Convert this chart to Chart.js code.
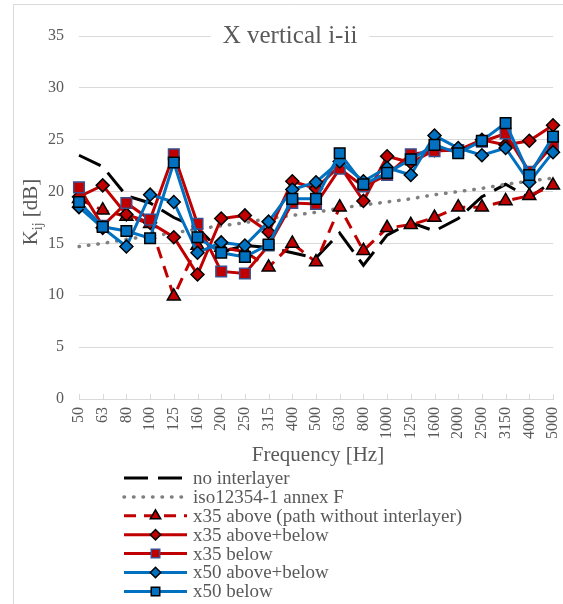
<!DOCTYPE html>
<html>
<head>
<meta charset="utf-8">
<script src="https://cdn.jsdelivr.net/npm/chart.js@4/dist/chart.umd.min.js"></script>
<style>
  html, body { margin: 0; padding: 0; background: #fff; }
  canvas { display: block; }
</style>
</head>
<body>
<canvas id="chart" width="563" height="604"></canvas>
<script>
var freqs = ["50", "63", "80", "100", "125", "160", "200", "250", "315", "400", "500",
  "630", "800", "1000", "1250", "1600", "2000", "2500", "3150", "4000", "5000"];
var yTicks = [0, 5, 10, 15, 20, 25, 30, 35];

var noInterlayer   = [23.5, 22.4, 19.6, 18.9, 17.5, 16.5, 14.2, 14.8, 14.6, 14.1, 13.6, 16.0, 12.9, 15.8, 17.0, 16.2, 17.4, 19.5, 20.7, 19.4, 21.0];
var iso12354       = [14.7, 15.0, 15.4, 15.7, 16.0, 16.4, 16.7, 17.0, 17.4, 17.7, 18.0, 18.4, 18.7, 19.0, 19.3, 19.7, 20.0, 20.3, 20.7, 21.0, 21.3];
var x35Above       = [19.3, 18.2, 17.6, 16.9, 9.9, 14.8, 14.6, 14.2, 12.7, 15.0, 13.2, 18.5, 14.3, 16.5, 16.8, 17.5, 18.5, 18.5, 19.1, 19.6, 20.6];
var x35AboveBelow  = [19.5, 20.6, 17.8, 17.0, 15.6, 12.0, 17.4, 17.7, 16.1, 21.0, 20.3, 22.5, 19.1, 23.4, 22.8, 24.0, 24.0, 25.0, 24.5, 24.9, 26.4];
var x35Below       = [20.4, 16.7, 18.9, 17.3, 23.6, 16.9, 12.3, 12.1, 14.8, 18.9, 18.8, 22.2, 20.5, 21.6, 23.6, 23.9, 24.0, 24.8, 25.6, 21.9, 24.5];
var x50AboveBelow  = [18.5, 16.5, 14.7, 19.7, 19.0, 14.1, 15.1, 14.8, 17.1, 20.2, 20.9, 22.9, 21.0, 22.3, 21.6, 25.4, 24.2, 23.5, 24.2, 20.9, 23.8];
var x50Below       = [19.0, 16.6, 16.2, 15.5, 22.8, 15.6, 14.1, 13.7, 14.9, 19.3, 19.3, 23.7, 20.7, 21.8, 23.1, 24.5, 23.7, 24.9, 26.6, 21.6, 25.3];

var FONT = "'Liberation Serif', 'Times New Roman', serif";
var TEXT = "#595959";
var GRID = "#D9D9D9";
var RED = "#C00000";
var BLUE = "#0070C0";

function series(label, data, color, dash, style, radius, fill, edge, order) {
  return {
    label: label,
    data: data,
    borderColor: color,
    borderWidth: 3,
    borderDash: dash,
    borderCapStyle: dash.length && dash[0] < 2 ? "round" : "butt",
    pointStyle: style,
    pointRadius: style ? radius : 0,
    pointHoverRadius: style ? radius : 0,
    pointBackgroundColor: fill,
    pointBorderColor: edge,
    pointBorderWidth: 1.5,
    tension: 0,
    fill: false,
    order: order
  };
}

var datasets = [
  series("no interlayer", noInterlayer, "#000000", [24, 10], false, 0, null, null, 6),
  series("iso12354-1 annex F", iso12354, "#7F7F7F", [0.5, 9], false, 0, null, null, 5),
  series("x35 above (path without interlayer)", x35Above, RED, [12, 8], "triangle", 7.5, RED, "#000000", 4),
  series("x35 above+below", x35AboveBelow, RED, [], "rectRot", 6.5, RED, "#000000", 3),
  series("x35 below", x35Below, RED, [], "rect", 7.5, RED, "#3A4F8C", 2),
  series("x50 above+below", x50AboveBelow, BLUE, [], "rectRot", 6.5, BLUE, "#000000", 1),
  series("x50 below", x50Below, BLUE, [], "rect", 7.5, BLUE, "#000000", 0)
];
// the dotted iso line has bigger round dots
datasets[1].borderWidth = 3.5;

var decor = {
  id: "decor",
  beforeDraw: function(chart) {
    var ctx = chart.ctx;
    ctx.save();
    ctx.fillStyle = "#fff";
    ctx.fillRect(0, 0, chart.width, chart.height);
    ctx.strokeStyle = GRID;
    ctx.lineWidth = 1;
    ctx.beginPath();
    ctx.moveTo(13.5, chart.height + 2);
    ctx.lineTo(13.5, 4.5);
    ctx.lineTo(chart.width + 2, 4.5);
    ctx.stroke();
    ctx.restore();
  },
  beforeDatasetsDraw: function(chart) {
    var ctx = chart.ctx;
    var xs = chart.scales.x;
    var bottom = chart.chartArea.bottom;
    ctx.save();
    ctx.strokeStyle = GRID;
    ctx.lineWidth = 1;
    ctx.beginPath();
    for (var i = 0; i < freqs.length; i++) {
      var px = Math.round(xs.getPixelForTick(i)) + 0.5;
      ctx.moveTo(px, bottom);
      ctx.lineTo(px, bottom - 5);
    }
    ctx.stroke();
    ctx.restore();
  },
  afterDraw: function(chart) {
    var ctx = chart.ctx;
    var area = chart.chartArea;
    ctx.save();

    // title sitting on the top gridline
    var title = "X vertical i-ii";
    ctx.font = "25px " + FONT;
    var tw = ctx.measureText(title).width;
    var cx = 290;
    ctx.fillStyle = "#fff";
    ctx.fillRect(cx - tw / 2 - 12, area.top - 14, tw + 24, 26);
    ctx.fillStyle = TEXT;
    ctx.textAlign = "center";
    ctx.textBaseline = "alphabetic";
    ctx.fillText(title, cx, area.top + 7);

    // y axis title with subscript
    ctx.translate(37, 212);
    ctx.rotate(-Math.PI / 2);
    ctx.textAlign = "left";
    ctx.font = "21px " + FONT;
    var w1 = ctx.measureText("K").width;
    ctx.font = "14px " + FONT;
    var w2 = ctx.measureText("ij").width;
    ctx.font = "21px " + FONT;
    var w3 = ctx.measureText(" [dB]").width;
    var sx = -(w1 + w2 + w3) / 2;
    ctx.fillText("K", sx, 0);
    ctx.font = "14px " + FONT;
    ctx.fillText("ij", sx + w1, 5);
    ctx.font = "21px " + FONT;
    ctx.fillText(" [dB]", sx + w1 + w2, 0);
    ctx.setTransform(1, 0, 0, 1, 0, 0);

    // x axis title
    ctx.font = "21px " + FONT;
    ctx.textAlign = "center";
    ctx.fillStyle = TEXT;
    ctx.fillText("Frequency [Hz]", 318, 461);

    // legend
    var ds = chart.data.datasets;
    ctx.font = "19px " + FONT;
    ctx.textAlign = "left";
    ctx.textBaseline = "middle";
    for (var i = 0; i < ds.length; i++) {
      var d = ds[i];
      var ly = 478 + i * 18.9;
      ctx.save();
      ctx.strokeStyle = d.borderColor;
      ctx.lineWidth = d.borderWidth;
      ctx.lineCap = d.borderCapStyle;
      ctx.setLineDash(d.borderDash);
      ctx.beginPath();
      ctx.moveTo(124, ly);
      ctx.lineTo(187, ly);
      ctx.stroke();
      ctx.restore();
      if (d.pointStyle) {
        ctx.save();
        ctx.fillStyle = d.pointBackgroundColor;
        ctx.strokeStyle = d.pointBorderColor;
        ctx.lineWidth = d.pointBorderWidth;
        Chart.helpers.drawPoint(ctx, {
          pointStyle: d.pointStyle,
          radius: d.pointRadius * 0.8,
          borderWidth: d.pointBorderWidth,
          rotation: 0
        }, 155.5, ly);
        ctx.restore();
      }
      ctx.fillStyle = TEXT;
      ctx.fillText(d.label, 193, ly + 1);
    }
    ctx.restore();
  }
};

var ctx = document.getElementById("chart").getContext("2d");
var chart = new Chart(ctx, {
  type: "line",
  data: { labels: freqs, datasets: datasets },
  options: {
    responsive: false,
    animation: false,
    events: [],
    layout: { padding: { top: 36, right: 10, bottom: 0, left: 0 } },
    plugins: { legend: { display: false }, title: { display: false }, tooltip: { enabled: false } },
    scales: {
      x: {
        offset: false,
        grid: { display: true, drawOnChartArea: false, drawTicks: false, color: GRID },
        border: { display: true, color: GRID, width: 1 },
        ticks: {
          autoSkip: false, maxRotation: 90, minRotation: 90, padding: 8,
          color: TEXT, font: { family: FONT, size: 16 }
        },
        afterFit: function(scale) {
          scale.height = 205;
          scale.paddingLeft = 0;
          scale.paddingRight = 0;
        }
      },
      y: {
        min: 0, max: 35,
        afterBuildTicks: function(scale) { scale.ticks = yTicks.map(function(v) { return { value: v }; }); },
        grid: { color: GRID, drawTicks: false, lineWidth: 1 },
        border: { display: false },
        ticks: { padding: 15, color: TEXT, font: { family: FONT, size: 16 } },
        afterFit: function(scale) {
          scale.width = 79;
          scale.paddingTop = 0;
          scale.paddingBottom = 0;
        }
      }
    }
  },
  plugins: [decor]
});
</script>
</body>
</html>
